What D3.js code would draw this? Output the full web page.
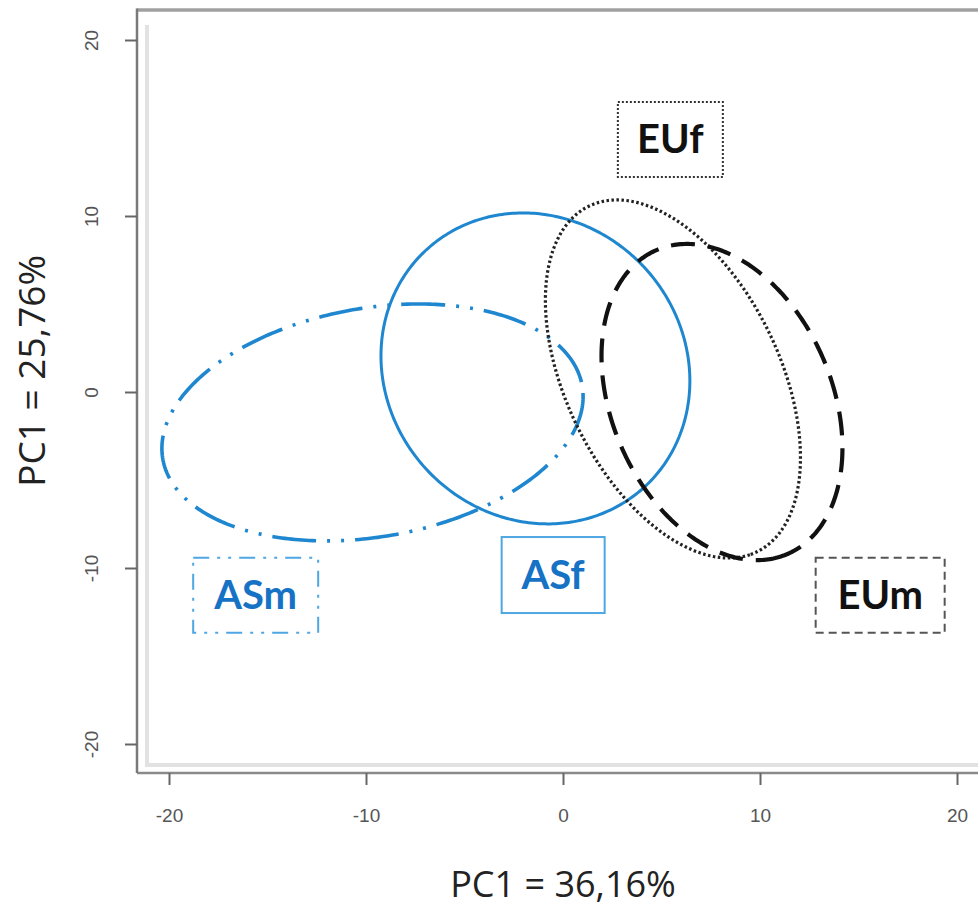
<!DOCTYPE html>
<html>
<head>
<meta charset="utf-8">
<script src="https://cdn.jsdelivr.net/npm/d3@7"></script>
<style>
  html, body { margin: 0; padding: 0; background: #fff; }
  svg { display: block; }
</style>
</head>
<body>
<svg id="chart" width="978" height="913"></svg>
<script>
// Group confidence ellipses in the PC plane (data units)
const groups     = ["ASm", "ASf", "EUf", "EUm"];
const centerX    = [-9.67, -1.40, 5.58, 8.07];
const centerY    = [-1.73, 1.34, 0.74, -0.57];
const semiMajor  = [10.85, 8.93, 10.72, 9.27];
const semiMinor  = [6.47, 7.73, 5.52, 5.67];
const angleDeg   = [12.3, -73, -68.4, -71.8];

// Label boxes placed in data coordinates
const labelX     = [-15.6, -0.5, 5.45, 16.1];
const labelY     = [-11.55, -10.4, 14.35, -11.55];

const xTicks = [-20, -10, 0, 10, 20];
const yTicks = [-20, -10, 0, 10, 20];
const xTitle = "PC1 = 36,16%";
const yTitle = "PC1 = 25,76%";

const svg = d3.select("#chart");

const x = d3.scaleLinear().domain([-20, 20]).range([169, 957]);
const y = d3.scaleLinear().domain([-20, 20]).range([744, 40]);

// Plot frame: dark outer border with a light inner shade on the left and bottom
const frameLeft = 137, frameTop = 10, frameBottom = 773;
svg.append("path")
  .attr("d", `M${frameLeft + 10},${frameTop + 15}L${frameLeft + 10},${frameBottom - 8}L980,${frameBottom - 8}`)
  .attr("fill", "none").attr("stroke", "#e2e2e2").attr("stroke-width", 4);
svg.append("line")
  .attr("x1", frameLeft).attr("x2", 980)
  .attr("y1", frameTop).attr("y2", frameTop)
  .attr("stroke", "#a0a0a0").attr("stroke-width", 3.5);
svg.append("line")
  .attr("x1", frameLeft).attr("x2", 980)
  .attr("y1", frameBottom).attr("y2", frameBottom)
  .attr("stroke", "#8a8a8a").attr("stroke-width", 2.5);
svg.append("line")
  .attr("x1", frameLeft).attr("x2", frameLeft)
  .attr("y1", frameTop - 1.5).attr("y2", frameBottom)
  .attr("stroke", "#7a7a7a").attr("stroke-width", 2.5);

// Axes (plain hyphen for negative tick labels)
const tickFont = "Liberation Sans, Arial, sans-serif";
const tickFmt = d => String(d);
const xAxis = d3.axisBottom(x).tickValues(xTicks).tickSize(12).tickPadding(24).tickFormat(tickFmt);
const yAxis = d3.axisLeft(y).tickValues(yTicks).tickSize(12).tickPadding(12).tickFormat(tickFmt);

const gx = svg.append("g").attr("transform", `translate(0,${frameBottom})`).call(xAxis);
gx.select(".domain").remove();
gx.selectAll(".tick line").attr("stroke", "#666").attr("stroke-width", 2);
gx.selectAll(".tick text")
  .attr("fill", "#555").attr("font-family", tickFont).attr("font-size", 19);

const gy = svg.append("g").attr("transform", `translate(${frameLeft},0)`).call(yAxis);
gy.select(".domain").remove();
gy.selectAll(".tick line").attr("stroke", "#666").attr("stroke-width", 2);
gy.selectAll(".tick text")
  .attr("fill", "#555").attr("font-family", tickFont).attr("font-size", 19)
  .attr("text-anchor", "middle")
  .attr("x", 0).attr("dy", 0)
  .attr("transform", "translate(-44,0) rotate(-90)")
  .attr("dominant-baseline", "middle");

// Axis titles
svg.append("text")
  .attr("x", x(0)).attr("y", 897)
  .attr("text-anchor", "middle")
  .attr("font-family", "Open Sans, sans-serif").attr("font-size", 36).attr("fill", "#222")
  .text(xTitle);
svg.append("text")
  .attr("transform", `translate(45,${y(1.2)}) rotate(-90)`)
  .attr("text-anchor", "middle")
  .attr("font-family", "Open Sans, sans-serif").attr("font-size", 37).attr("fill", "#222")
  .text(yTitle);

// Ellipse outlines
const strokeColor = ["#1f87cf", "#1f87cf", "#222", "#111"];
const strokeWidth = [3.6, 3, 3.2, 4.2];
const strokeDash  = ["44,11,3,11,3,11", null, "2.5,2.5", "24,13"];

function ellipsePoints(i) {
  const phi = angleDeg[i] * Math.PI / 180;
  const pts = [];
  for (let k = 0; k <= 360; k++) {
    const t = k * Math.PI / 180;
    const ex = semiMajor[i] * Math.cos(t), ey = semiMinor[i] * Math.sin(t);
    const dx = centerX[i] + ex * Math.cos(phi) - ey * Math.sin(phi);
    const dy = centerY[i] + ex * Math.sin(phi) + ey * Math.cos(phi);
    pts.push([x(dx), y(dy)]);
  }
  return pts;
}

const line = d3.line().curve(d3.curveLinearClosed);
groups.forEach((g, i) => {
  svg.append("path")
    .attr("d", line(ellipsePoints(i)))
    .attr("fill", "none")
    .attr("stroke", strokeColor[i])
    .attr("stroke-width", strokeWidth[i])
    .attr("stroke-dasharray", strokeDash[i]);
});

// Group labels in framed boxes
const boxW = [125, 103, 105, 129];
const boxH = [75, 76, 75, 75];
const boxStroke = ["#4ea6e2", "#4ea6e2", "#333", "#555"];
const boxDash = ["16,8,3,8,3,8", null, "2,2", "8,5"];
const textColor = ["#1672c4", "#1672c4", "#111", "#111"];

groups.forEach((g, i) => {
  const cx = x(labelX[i]), cy = y(labelY[i]);
  svg.append("rect")
    .attr("x", cx - boxW[i] / 2).attr("y", cy - boxH[i] / 2)
    .attr("width", boxW[i]).attr("height", boxH[i])
    .attr("fill", "none")
    .attr("stroke", boxStroke[i]).attr("stroke-width", 2)
    .attr("stroke-dasharray", boxDash[i]);
  svg.append("text")
    .attr("x", cx).attr("y", cy + 14)
    .attr("text-anchor", "middle")
    .attr("font-family", "Lato, Open Sans, sans-serif").attr("font-weight", "bold")
    .attr("font-size", 40).attr("fill", textColor[i])
    .text(g);
});
</script>
</body>
</html>
